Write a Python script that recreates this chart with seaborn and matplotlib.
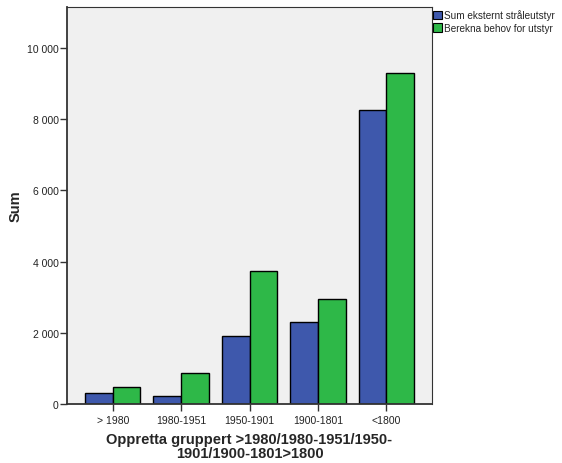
import matplotlib
matplotlib.use("Agg")
import matplotlib.pyplot as plt
import matplotlib.ticker as mticker
import seaborn as sns
import pandas as pd

periods = ["> 1980", "1980-1951", "1950-1901", "1900-1801", "<1800"]
series_names = ["Sum eksternt stråleutstyr", "Berekna behov for utstyr"]
sum_eksternt = [310, 225, 1910, 2300, 8260]
berekna_behov = [490, 870, 3750, 2940, 9290]
y_ticks = [0, 2000, 4000, 6000, 8000, 10000]

df = pd.DataFrame({
    "period": periods * 2,
    "value": sum_eksternt + berekna_behov,
    "series": [series_names[0]] * len(periods) + [series_names[1]] * len(periods),
})

sns.set_theme(style="white")
plt.rcParams["font.family"] = ["Liberation Sans", "DejaVu Sans"]

fig = plt.figure(figsize=(5.62, 4.64), dpi=100)
ax = fig.add_axes([67 / 562, 59 / 464, 365 / 562, 397.5 / 464])
ax.set_facecolor("#F0F0F0")

sns.barplot(
    data=df, x="period", y="value", hue="series", order=periods,
    hue_order=series_names, palette=["#3E58AC", "#2EB848"], saturation=1,
    edgecolor="black", linewidth=1.0, width=0.81, ax=ax, errorbar=None,
)

ax.set_xlim(-0.67, 4.67)
ax.set_ylim(0, 11170)
ax.set_yticks(y_ticks)
ax.yaxis.set_major_formatter(
    mticker.FuncFormatter(lambda v, p: f"{int(v):,}".replace(",", " "))
)
ax.tick_params(axis="both", which="major", direction="out", length=5,
               width=1.0, color="#333333", labelsize=7.5, labelcolor="#222222",
               left=True, bottom=True)
ax.tick_params(axis="y", pad=1)
ax.tick_params(axis="x", pad=3)
for side in ["left", "bottom"]:
    ax.spines[side].set_color("#333333")
    ax.spines[side].set_linewidth(1.3)
for side in ["top", "right"]:
    ax.spines[side].set_color("#333333")
    ax.spines[side].set_linewidth(0.8)

ax.set_ylabel("Sum", fontsize=10.5, fontweight="bold", labelpad=3)
ax.set_xlabel("Oppretta gruppert >1980/1980-1951/1950-\n1901/1900-1801>1800",
              fontsize=10.5, fontweight="bold", labelpad=5, linespacing=0.95)

leg = ax.legend(loc="upper left", bbox_to_anchor=(1.0, 0.995), frameon=False,
                fontsize=7.2, handlelength=0.85, handleheight=0.9,
                handletextpad=0.3, borderaxespad=0.0, borderpad=0.1,
                labelspacing=0.25)
for h in leg.legend_handles:
    h.set_edgecolor("black")
    h.set_linewidth(0.8)

fig.savefig("out.png", dpi=100)
